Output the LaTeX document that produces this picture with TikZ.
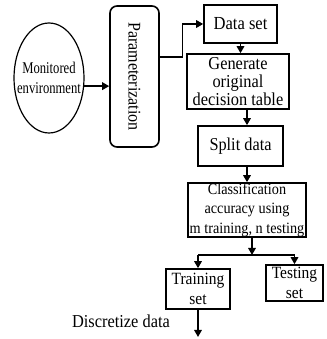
\documentclass[tikz,border=0pt]{standalone}
\usepackage{fontspec}
\setmainfont[FakeStretch=0.9]{Liberation Serif}
\newfontfamily\narrowfont[FakeStretch=0.77]{Liberation Serif}
\usepackage{graphicx}
\usetikzlibrary{arrows.meta,shapes.geometric}
\newcommand{\fs}[2]{\fontsize{#1}{#2}\selectfont}

\begin{document}
\begin{tikzpicture}[x=1pt,y=1pt,
  box/.style={draw,line width=1.6pt,inner sep=0pt,align=center},
  arr/.style={line width=1.6pt,-{Triangle[length=7pt,width=7.5pt]}}]
  \useasboundingbox (0,0) rectangle (326,339);
  \node[draw,ellipse,line width=1.2pt,inner xsep=-7.5pt,inner ysep=0pt,minimum width=70,minimum height=110,
        align=center,font=\narrowfont\fs{16.4}{19.5}] (env) at ( 49  ,261  ) {Monitored\\environment};
  \node[box,rounded corners=7pt,minimum width=49,minimum height=141,font=\fs{17.8}{18}]
        (param) at (134.5,262.5) {\rotatebox{-90}{Parameterization}};
  \node[box,minimum width= 73,minimum height=38,font=\fs{18.4}{18}]   (data)  at (240.5,315  ) {Data set};
  \node[box,minimum width=102,minimum height=55,font=\fs{18.2}{17.8}] (gen)   at (238  ,257.5) {Generate\\original\\decision table};
  \node[box,minimum width= 85,minimum height=40,font=\fs{18.1}{18}]   (split) at (240.5,193  ) {Split data};
  \node[box,minimum width=118,minimum height=54,font=\fs{15.8}{19.4}] (cls)   at (247  ,129  ) {Classification\\accuracy using\\m training, n testing};
  \node[box,minimum width= 64,minimum height=40,font=\fs{17.2}{20}]   (train) at (198  , 50  ) {Training\\set};
  \node[box,minimum width= 57,minimum height=36,font=\fs{17.2}{20}]   (test)  at (294.5, 56  ) {Testing\\set};
  \node[font=\fs{18.2}{18}] (disc) at (121,18) {Discretize data};
  \coordinate (fork) at (252,84);
  \coordinate (dout) at (198, 2);
  % connectors
  \draw[arr] (env.-13) -- (env.-13 -| param.west);
  \draw[arr] ([yshift=19.5pt]param.east) -- ++(22.5,0) |- (data.west);
  \draw[arr] (data.south) -- (data.south |- gen.north);
  \draw[arr] (cls.north |- gen.south) -- (cls.north |- split.north);
  \draw[arr] (cls.north |- split.south) -- (cls.north);
  \draw[arr] (cls.south -| fork) -- (fork);
  \draw[line width=1.6pt] (train.north |- fork) -- (test.north |- fork);
  \draw[arr] (train.north |- fork) -- (train.north);
  \draw[arr] (test.north |- fork) -- (test.north);
  \draw[arr] (train.south) -- (dout);
\end{tikzpicture}
\end{document}
